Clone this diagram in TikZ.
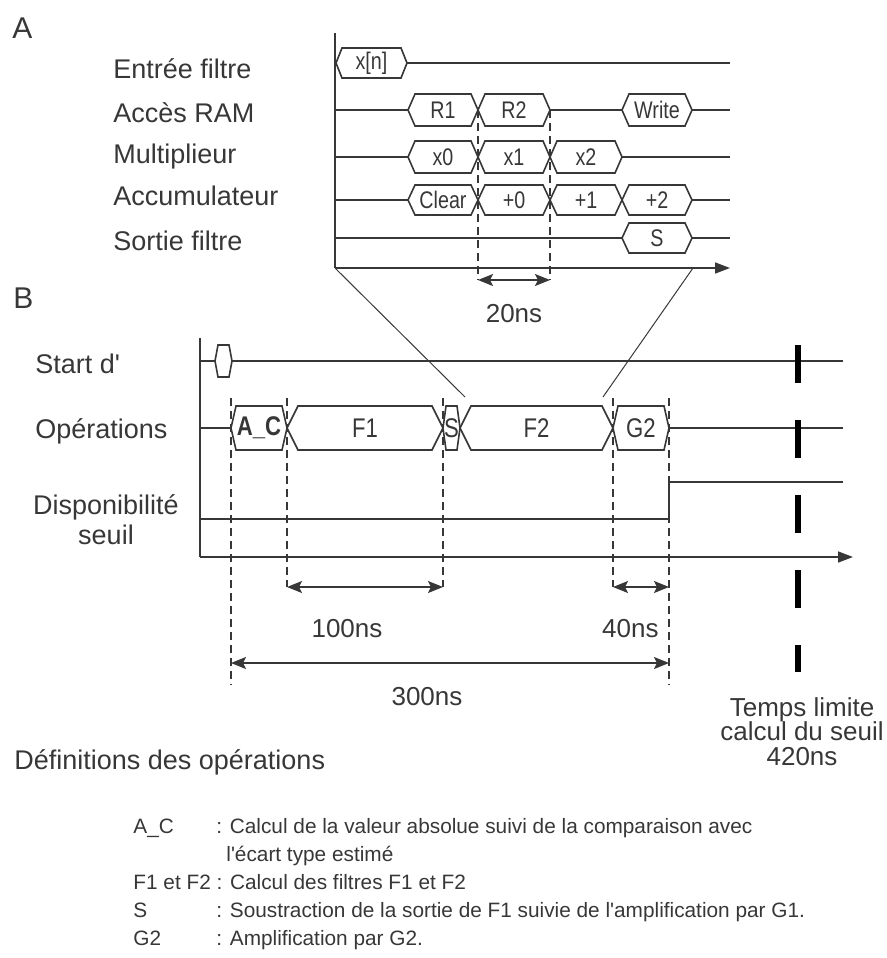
\documentclass[tikz,border=0pt]{standalone}
\usepackage{fontspec}
\setmainfont{Liberation Sans}
\newfontfamily\labelfont{Liberation Sans}
\newfontfamily\condfont{Liberation Sans}[FakeStretch=0.82]
\usepackage{tikz}
\usetikzlibrary{arrows.meta}
\definecolor{ink}{RGB}{55,55,55}
\newcommand{\tightlines}{\lineskiplimit=-100pt\relax}
\tikzset{
  sig/.style={draw=ink, line width=0.8pt},
  guide/.style={draw=ink, line width=0.6pt, dash pattern=on 4pt off 2.5pt},
  zoomline/.style={draw=ink, line width=0.5pt},
  axis/.style={draw=ink, line width=0.8pt, -{Triangle[length=7.5pt,width=5.5pt]}},
  dim/.style={draw=ink, line width=0.8pt, {Stealth[length=7.5pt,width=6pt,inset=1.5pt]}-{Stealth[length=7.5pt,width=6pt,inset=1.5pt]}},
  lbl/.style={text=ink, font=\labelfont\fontsize{13.5}{15}\selectfont, inner sep=0pt},
  panel/.style={text=ink, font=\labelfont\fontsize{15}{18}\selectfont, inner sep=0pt, anchor=base west},
  vlbl/.style={text=ink, font=\condfont\fontsize{12}{14}\selectfont, inner sep=0pt},
  deflbl/.style={text=ink, font=\labelfont\fontsize{10.4}{12}\selectfont, inner sep=0pt, anchor=base west},
  limit/.style={draw=black, line width=3pt, dash pattern=on 19pt off 18.5pt}
}
% bus value: x1, x2, y, half height, slant, name, text
\newcommand{\busval}[7]{%
  \draw[sig] (#1,#3) -- (#1+#5,#3-#4) -- (#2-#5,#3-#4) -- (#2,#3) -- (#2-#5,#3+#4) -- (#1+#5,#3+#4) -- cycle;
  \node[vlbl] (#6) at ({(#1+#2)/2},#3) {#7};}

\begin{document}
\begin{tikzpicture}[x=0.5pt,y=-0.5pt]
  \useasboundingbox (0,0) rectangle (887,958);
  % A
  \node[panel] (panA) at (12,38) {A};
  \foreach \yb/\nm/\txt in {78/entree/Entrée filtre,122/ram/Accès RAM,163/mult/Multiplieur,205/acc/Accumulateur,250/sortie/Sortie filtre}
    \node[lbl, anchor=base west] (\nm) at (113,\yb) {\txt};
  \coordinate (oA) at (335,268);
  \draw[sig] (335,33) -- (oA);
  \draw[axis] (oA) -- (730,268);
  \busval{336}{407}{63}{15}{6}{xn}{x[n]}
  \draw[sig] (407,63) -- (730,63);
  \draw[sig] (335,110) -- (408,110);
  \busval{408}{478}{110}{16}{7}{r1}{R1}
  \busval{478}{550}{110}{16}{7}{r2}{R2}
  \draw[sig] (550,110) -- (622,110);
  \busval{622}{692}{110}{16}{7}{wr}{Write}
  \draw[sig] (692,110) -- (730,110);
  \draw[sig] (335,157) -- (408,157);
  \busval{408}{478}{157}{16}{7}{m0}{x0}
  \busval{478}{550}{157}{16}{7}{m1}{x1}
  \busval{550}{622}{157}{16}{7}{m2}{x2}
  \draw[sig] (622,157) -- (730,157);
  \draw[sig] (335,200) -- (408,200);
  \busval{408}{478}{200}{15}{7}{clr}{Clear}
  \busval{478}{550}{200}{15}{7}{a0}{+0}
  \busval{550}{622}{200}{15}{7}{a1}{+1}
  \busval{622}{692}{200}{15}{7}{a2}{+2}
  \draw[sig] (692,200) -- (730,200);
  \draw[sig] (335,238) -- (622,238);
  \busval{622}{692}{238}{15}{7}{so}{S}
  \draw[sig] (692,238) -- (730,238);
  \coordinate (ga) at (478,280);
  \coordinate (gb) at (550,280);
  \draw[guide] (478,110) -- (ga);
  \draw[guide] (550,110) -- (gb);
  \draw[dim] (ga) -- (gb);
  \node[lbl, font=\labelfont\fontsize{13}{15}\selectfont, anchor=base] (t20) at (514,322) {20ns};
  \coordinate (zl) at (465,397);
  \coordinate (zr) at (603,397);
  \draw[zoomline] (oA) -- (zl);
  \draw[zoomline] (693,268) -- (zr);
  % B
  \node[panel] (panB) at (13,308) {B};
  \node[lbl, anchor=base west] (start) at (35,373) {Start d'};
  \node[lbl, anchor=base west] (ops) at (35,438) {Opérations};
  \node[lbl, align=center] (dispo) at (106,520) {Disponibilité\\seuil};
  \coordinate (oB) at (200,557);
  \draw[sig] (200,338) -- (oB);
  \draw[axis] (oB) -- (853,557);
  \draw[sig] (200,361) -- (215,361);
  \busval{215}{232}{361}{16}{3}{sbox}{}
  \draw[sig] (232,361) -- (843,361);
  \begin{scope}[vlbl/.append style={font=\condfont\fontsize{13.5}{15}\selectfont}]
    \draw[sig] (200,428) -- (231,428);
    \busval{231}{287}{428}{22}{5}{ac}{\bfseries A\_C}
    \busval{287}{443}{428}{22}{11}{f1}{F1}
    \busval{443}{460}{428}{22}{3}{sg}{S}
    \busval{460}{613}{428}{22}{11}{f2}{F2}
    \busval{613}{669}{428}{22}{5}{g2}{G2}
    \draw[sig] (669,428) -- (843,428);
  \end{scope}
  \draw[sig] (200,519) -- (669,519) -- (669,482) -- (843,482);
  \draw[limit] (798,345) -- (798,672);
  \coordinate (c0) at (231,663);
  \coordinate (c1) at (287,587);
  \coordinate (c2) at (443,587);
  \coordinate (c3) at (613,587);
  \coordinate (c4) at (669,587);
  \coordinate (c5) at (669,663);
  \draw[guide] (231,398) -- (231,685);
  \draw[guide] (287,398) -- (c1);
  \draw[guide] (443,398) -- (c2);
  \draw[guide] (613,398) -- (c3);
  \draw[guide] (669,398) -- (669,685);
  \draw[dim] (c1) -- (c2);
  \draw[dim] (c3) -- (c4);
  \draw[dim] (c0) -- (c5);
  \node[lbl, font=\labelfont\fontsize{13}{15}\selectfont, anchor=base] (t100) at (347,637) {100ns};
  \node[lbl, font=\labelfont\fontsize{13}{15}\selectfont, anchor=base east] (t40) at (659,637) {40ns};
  \node[lbl, font=\labelfont\fontsize{13}{15}\selectfont, anchor=base] (t300) at (427,705) {300ns};
  \node[lbl, align=center, anchor=north, font=\labelfont\fontsize{13}{12.2}\selectfont\tightlines] (tlim) at (802,697) {Temps limite\\calcul du seuil\\420ns};
  % definitions
  \node[lbl, anchor=base west] (defs) at (14,769) {Définitions des opérations};
  \node[deflbl] (k1) at (133,833) {A\_C};
  \node[deflbl] (d1) at (216,833) {: Calcul de la valeur absolue suivi de la comparaison avec};
  \node[deflbl] (d2) at (226,861) {l'écart type estimé};
  \node[deflbl] (k2) at (133,889) {F1 et F2 : Calcul des filtres F1 et F2};
  \node[deflbl] (k3) at (133,917) {S};
  \node[deflbl] (d3) at (216,917) {: Soustraction de la sortie de F1 suivie de l'amplification par G1.};
  \node[deflbl] (k4) at (133,945) {G2};
  \node[deflbl] (d4) at (216,945) {: Amplification par G2.};
\end{tikzpicture}
\end{document}
